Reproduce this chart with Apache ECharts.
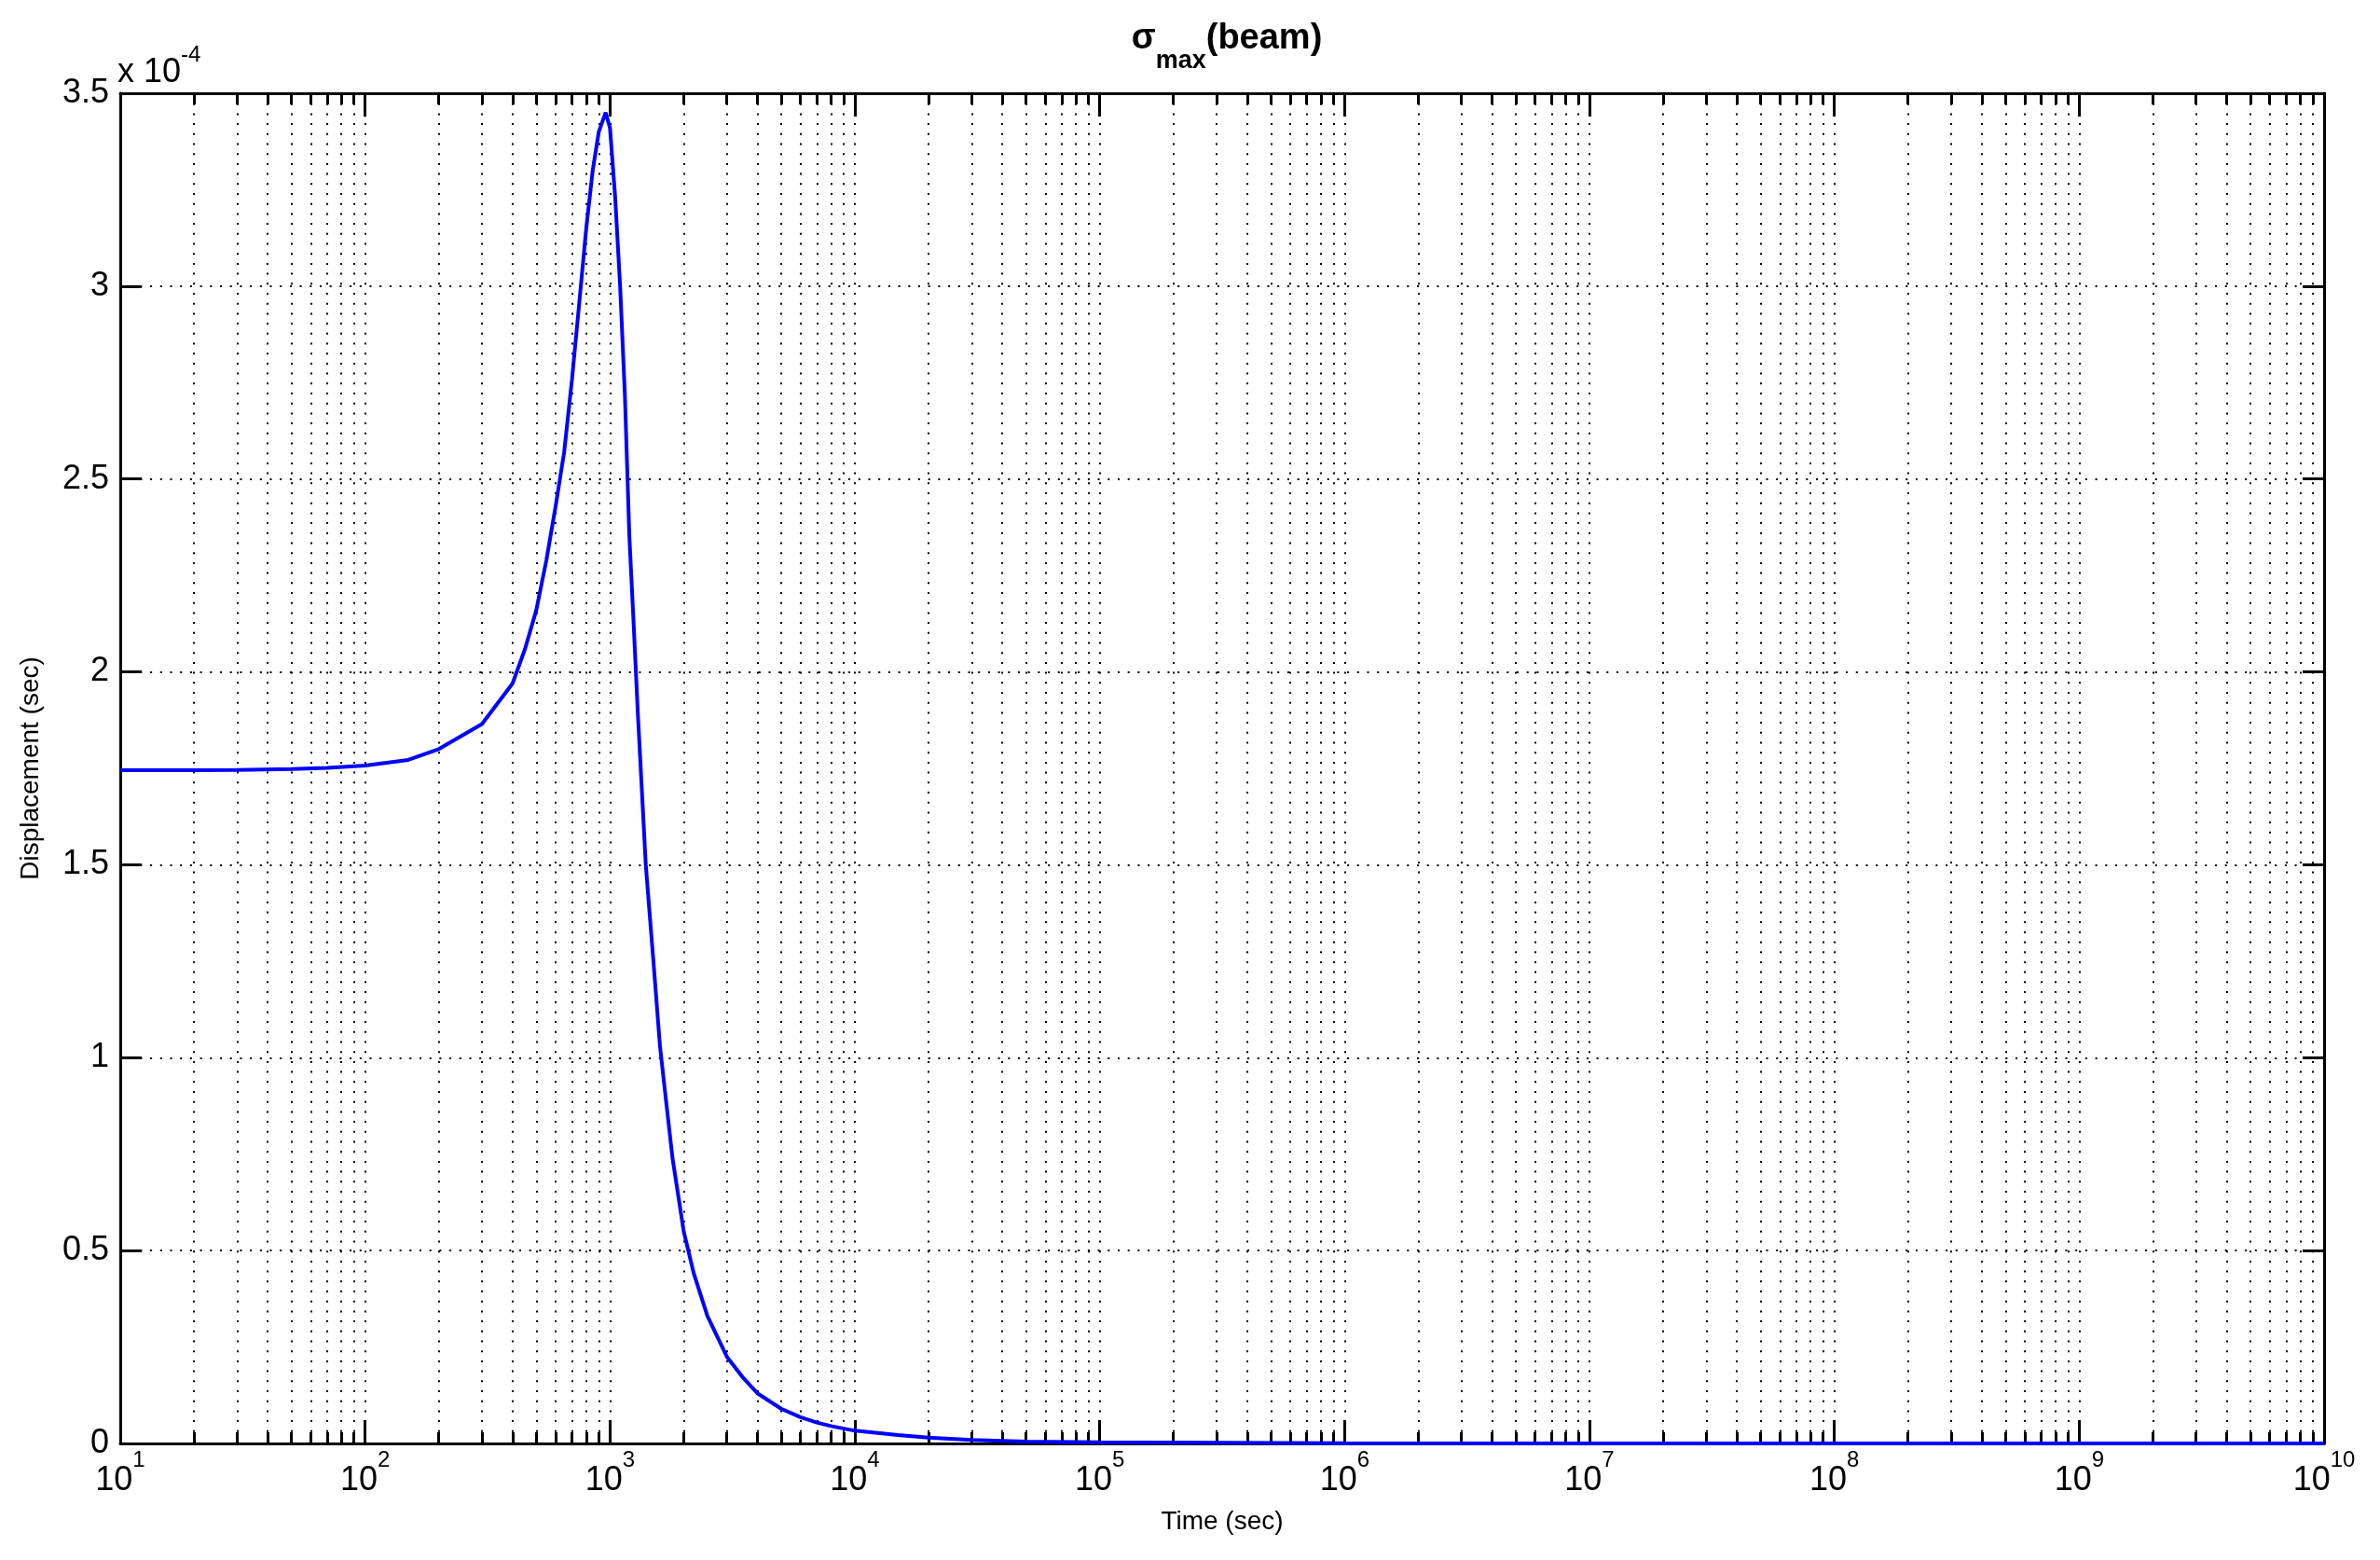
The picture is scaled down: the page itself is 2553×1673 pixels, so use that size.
<!DOCTYPE html>
<html>
<head>
<meta charset="utf-8">
<title>sigma max (beam)</title>
<script src="https://cdn.jsdelivr.net/npm/echarts@6/dist/echarts.min.js"></script>
<style>
  html, body { margin: 0; padding: 0; background: #fff; }
  #chart { width: 2553px; height: 1673px; }
</style>
</head>
<body>
<div id="chart"></div>
<script>
// values, displacement is in units of 1e-4
var timeSec = [10, 20, 30, 50, 70, 100, 150, 200, 300, 400, 450, 500, 550, 600, 650, 700, 750, 800, 850, 900, 960,
  1000, 1050, 1100, 1150, 1200, 1250, 1300, 1400, 1500, 1600, 1700, 1800, 2000, 2200, 2500, 3000, 3500, 4000,
  5000, 6000, 7000, 8000, 10000, 15000, 20000, 30000, 50000, 1e5, 1e6, 1e7, 1e8, 1e9, 1e10]
var dispE4 = [1.745, 1.745, 1.746, 1.748, 1.751, 1.757, 1.772, 1.80, 1.865, 1.97, 2.06, 2.16, 2.29, 2.43, 2.57, 2.76, 2.96, 3.15, 3.30, 3.40, 3.45,
  3.41, 3.23, 3.00, 2.72, 2.35, 2.12, 1.89, 1.50, 1.26, 1.03, 0.88, 0.74, 0.55, 0.44, 0.33, 0.225, 0.17, 0.13,
  0.09, 0.068, 0.054, 0.045, 0.033, 0.022, 0.015, 0.009, 0.005, 0.003, 0.0008, 0.0003, 0.0002, 0.0001, 0.0001]

var xRange = [10, 1e10]
var yRange = [0, 3.5]
var yStep = 0.5
var yExponent = -4

var FONT = 'Liberation Sans'
var dotted = { color: '#000', width: 2, type: [2, 8.7] }

var supRich = {
  n: { fontFamily: FONT, fontSize: 36, color: '#000', lineHeight: 44, padding: [16, 0, 0, 0], verticalAlign: 'top' },
  s: { fontFamily: FONT, fontSize: 24, color: '#000', lineHeight: 28, verticalAlign: 'top' }
}

function logAxis(pos, withLabels) {
  return {
    type: 'log',
    logBase: 10,
    position: pos,
    min: xRange[0],
    max: xRange[1],
    splitNumber: 9,
    axisLine: { show: true, onZero: false, lineStyle: { color: '#000', width: 3 } },
    axisTick: { show: true, inside: true, length: 25, lineStyle: { color: '#000', width: 3 } },
    minorTick: { show: true, splitNumber: 9, length: 12, lineStyle: { color: '#000', width: 3 } },
    splitLine: { show: withLabels, lineStyle: dotted },
    minorSplitLine: { show: withLabels, lineStyle: dotted },
    axisLabel: {
      show: withLabels,
      margin: 6,
      formatter: function (v) {
        return '{n|10}{s|' + Math.round(Math.log10(v)) + '}'
      },
      rich: supRich
    },
    name: withLabels ? 'Time (sec)' : '',
    nameLocation: 'middle',
    nameGap: 70,
    nameTextStyle: { fontFamily: FONT, fontSize: 28, color: '#000' }
  }
}

function linAxis(pos, withLabels) {
  return {
    type: 'value',
    position: pos,
    min: yRange[0],
    max: yRange[1],
    interval: yStep,
    axisLine: { show: true, onZero: false, lineStyle: { color: '#000', width: 3 } },
    axisTick: { show: true, inside: true, length: 23, lineStyle: { color: '#000', width: 3 } },
    splitLine: { show: withLabels, lineStyle: dotted },
    axisLabel: {
      show: withLabels,
      margin: 12,
      fontFamily: FONT,
      fontSize: 36,
      color: '#000'
    },
    name: withLabels ? 'Displacement (sec)' : '',
    nameLocation: 'middle',
    nameGap: 82,
    nameTextStyle: { fontFamily: FONT, fontSize: 28, color: '#000' }
  }
}

var chart = echarts.init(document.getElementById('chart'))
chart.setOption({
  animation: false,
  backgroundColor: '#fff',
  title: {
    text: '{g|σ}{sub|max}{b|(beam)}',
    left: 1311,
    textAlign: 'center',
    top: 18,
    textStyle: {
      rich: {
        g: { fontFamily: FONT, fontSize: 38, fontWeight: 'bold', color: '#000', lineHeight: 44, verticalAlign: 'top' },
        b: { fontFamily: FONT, fontSize: 38, fontWeight: 'bold', color: '#000', lineHeight: 44, verticalAlign: 'top' },
        sub: { fontFamily: FONT, fontSize: 27, color: '#000', lineHeight: 32, padding: [29, 0, 0, 0], verticalAlign: 'top' }
      }
    }
  },
  grid: { left: 129, right: 60, top: 100, bottom: 125 },
  xAxis: [logAxis('bottom', true), logAxis('top', false)],
  yAxis: [linAxis('left', true), linAxis('right', false)],
  graphic: [{
    type: 'text',
    left: 126,
    top: 47,
    style: {
      text: '{n|x 10}{s|' + yExponent + '}',
      rich: {
        n: { fontFamily: FONT, fontSize: 36, color: '#000', lineHeight: 44, padding: [13, 0, 0, 0], verticalAlign: 'top' },
        s: { fontFamily: FONT, fontSize: 24, color: '#000', lineHeight: 28, verticalAlign: 'top' }
      }
    }
  }],
  series: [{
    type: 'line',
    name: 'sigma max',
    data: timeSec.map(function (t, i) { return [t, dispE4[i]] }),
    showSymbol: false,
    smooth: false,
    lineStyle: { color: '#0000ff', width: 4 },
    z: 5
  }]
})
</script>
</body>
</html>
